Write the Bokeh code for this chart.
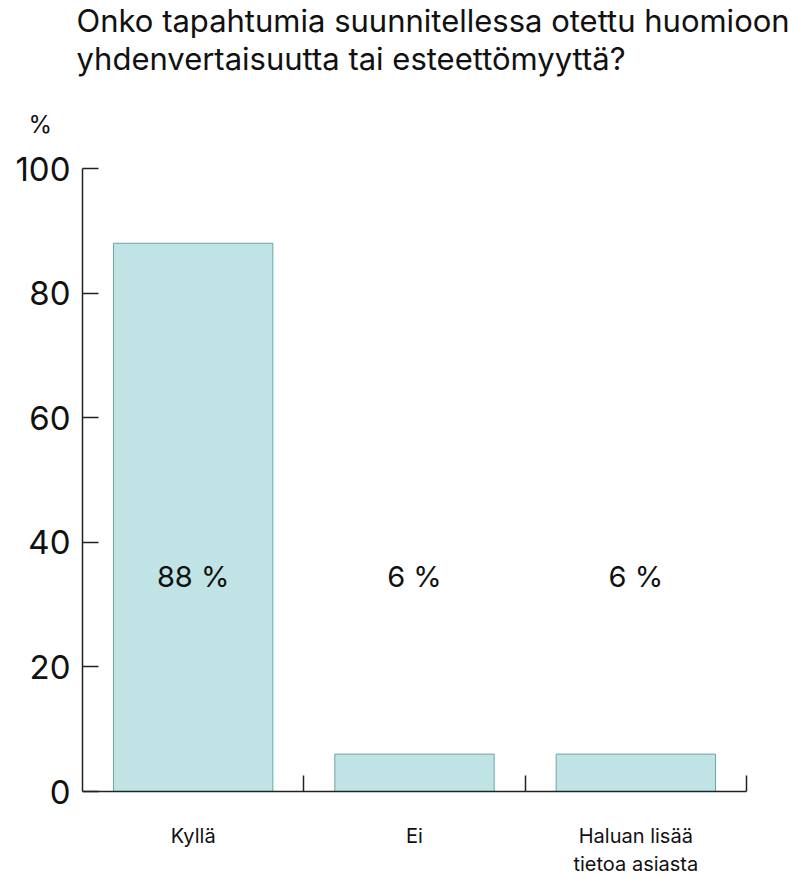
from bokeh.plotting import figure
from bokeh.models import Range1d, FixedTicker, Title, ColumnDataSource
from bokeh.core.properties import value
from bokeh.embed import file_html
from bokeh.resources import INLINE

title_lines = ["Onko tapahtumia suunnitellessa otettu huomioon",
               "yhdenvertaisuutta tai esteettömyyttä?"]
y_unit = "%"
categories = ["Kyllä", "Ei", "Haluan lisää\ntietoa asiasta"]
values = [88, 6, 6]
value_labels = ["88 %", "6 %", "6 %"]
y_ticks = [0, 20, 40, 60, 80, 100]

LABEL_Y = 34.5
FONT = "Inter"

xs = [i + 0.5 for i in range(len(categories))]
bounds = [i + 1 for i in range(len(categories))]

src = ColumnDataSource(dict(x=xs, top=values, label=value_labels,
                            ly=[LABEL_Y] * len(values)))

p = figure(width=799, height=879, x_range=Range1d(0, len(categories)),
           y_range=Range1d(0, 100), output_backend="svg", toolbar_location=None,
           min_border_left=82, min_border_right=53, min_border_top=168,
           min_border_bottom=87)
p.grid.visible = False
p.outline_line_color = None
p.background_fill_color = "white"
p.border_fill_color = "white"

p.vbar(x="x", top="top", width=0.72, source=src, fill_color="#c0e4e6",
       line_color="#6aa7a7", line_width=1)
p.text(x="x", y="ly", text="label", source=src, text_align="center",
       text_baseline="middle", text_font=value(FONT), text_font_size="29px",
       text_color="#111111")

xa = p.xaxis[0]
xa.ticker = FixedTicker(ticks=xs, minor_ticks=bounds)
xa.major_label_overrides = {x: c for x, c in zip(xs, categories)}
xa.major_tick_in = 0
xa.major_tick_out = 0
xa.minor_tick_in = 16
xa.minor_tick_out = 0
xa.minor_tick_line_width = 1.5
xa.minor_tick_line_color = "#222222"
xa.axis_line_width = 1.5
xa.axis_line_color = "#222222"
xa.major_label_text_font = FONT
xa.major_label_text_font_size = "20px"
xa.major_label_text_color = "#111111"
xa.major_label_standoff = 32

ya = p.yaxis[0]
ya.ticker = FixedTicker(ticks=y_ticks, minor_ticks=[])
ya.major_tick_in = 16
ya.major_tick_out = 0
ya.major_tick_line_width = 1.5
ya.major_tick_line_color = "#222222"
ya.axis_line_width = 1.5
ya.axis_line_color = "#222222"
ya.major_label_text_font = FONT
ya.major_label_text_font_size = "33px"
ya.major_label_text_color = "#111111"
ya.major_label_standoff = 12

t_unit = Title(text=y_unit, align="left", offset=-54, text_font=FONT,
               text_font_size="24px", text_font_style="normal", text_color="#111111",
               standoff=60)
t2 = Title(text=title_lines[1], align="left", offset=-6, text_font=FONT,
           text_font_size="31px", text_font_style="normal", text_color="#111111",
           standoff=2)
t1 = Title(text=title_lines[0], align="left", offset=-6, text_font=FONT,
           text_font_size="31px", text_font_style="normal", text_color="#111111",
           standoff=-4)
p.add_layout(t_unit, "above")
p.add_layout(t2, "above")
p.add_layout(t1, "above")

open("out.html", "w").write(file_html(p, INLINE))
